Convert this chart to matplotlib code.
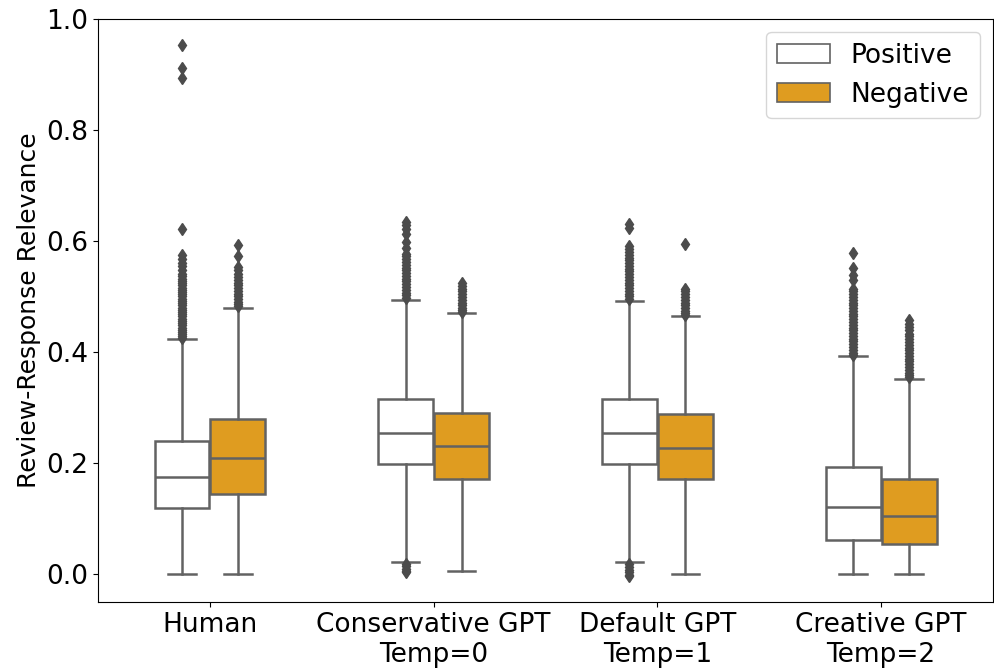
import numpy as np
import matplotlib.pyplot as plt

# категории и ряды
groups = ["Human", "Conservative GPT\nTemp=0", "Default GPT\nTemp=1", "Creative GPT\nTemp=2"]
hues = ["Positive", "Negative"]

# статистика ящиков: [Human, Conservative, Default, Creative]
pos_whislo = [0.0, 0.022, 0.022, 0.0]
pos_q1 = [0.119, 0.198, 0.199, 0.062]
pos_med = [0.175, 0.255, 0.255, 0.121]
pos_q3 = [0.240, 0.315, 0.315, 0.193]
pos_whishi = [0.423, 0.494, 0.491, 0.392]

neg_whislo = [0.0, 0.006, 0.0, 0.0]
neg_q1 = [0.144, 0.172, 0.171, 0.055]
neg_med = [0.209, 0.231, 0.228, 0.105]
neg_q3 = [0.279, 0.291, 0.288, 0.171]
neg_whishi = [0.480, 0.470, 0.465, 0.352]

# выбросы (на глаз)
pos_fliers = [
    [0.953, 0.911, 0.893, 0.621, 0.575, 0.568, 0.561, 0.554, 0.547, 0.541, 0.536,
     0.532, 0.528, 0.524, 0.520, 0.516, 0.512, 0.508, 0.504, 0.500, 0.496, 0.492,
     0.488, 0.484, 0.480, 0.476, 0.472, 0.468, 0.464, 0.460, 0.456, 0.452, 0.448,
     0.444, 0.440, 0.436, 0.432, 0.428, 0.425],
    [0.634, 0.628, 0.622, 0.612, 0.598, 0.587, 0.577, 0.572, 0.567, 0.562, 0.557,
     0.552, 0.547, 0.542, 0.537, 0.532, 0.527, 0.522, 0.517, 0.512, 0.507, 0.502,
     0.498, 0.018, 0.014, 0.010, 0.006, 0.003],
    [0.631, 0.623, 0.590, 0.585, 0.580, 0.575, 0.570, 0.565, 0.560, 0.555, 0.550,
     0.545, 0.540, 0.535, 0.530, 0.525, 0.520, 0.515, 0.510, 0.505, 0.500, 0.496,
     0.018, 0.013, 0.008, 0.003, -0.001, -0.004],
    [0.578, 0.551, 0.539, 0.530, 0.514, 0.509, 0.504, 0.499, 0.494, 0.489, 0.484,
     0.479, 0.474, 0.469, 0.464, 0.459, 0.454, 0.449, 0.444, 0.439, 0.434, 0.429,
     0.424, 0.419, 0.414, 0.409, 0.404, 0.399, 0.395],
]
neg_fliers = [
    [0.592, 0.572, 0.553, 0.547, 0.541, 0.535, 0.530, 0.525, 0.520, 0.515, 0.510,
     0.505, 0.500, 0.495, 0.490, 0.486, 0.483],
    [0.524, 0.519, 0.514, 0.509, 0.504, 0.499, 0.494, 0.489, 0.484, 0.479, 0.475,
     0.472],
    [0.595, 0.514, 0.509, 0.504, 0.499, 0.494, 0.489, 0.484, 0.479, 0.474, 0.470,
     0.467],
    [0.457, 0.451, 0.445, 0.439, 0.433, 0.428, 0.423, 0.418, 0.413, 0.408, 0.403,
     0.398, 0.393, 0.388, 0.383, 0.378, 0.373, 0.368, 0.363, 0.359, 0.355],
]

orange = "#df9c20"
gray = "#4c4c4c"
linegray = "#626262"


def make_stats(lo, q1, med, q3, hi, fl):
    res = []
    for i in range(len(lo)):
        res.append({"whislo": lo[i], "q1": q1[i], "med": med[i], "q3": q3[i],
                    "whishi": hi[i], "fliers": fl[i]})
    return res


fig = plt.figure(figsize=(9.95, 6.71), dpi=100)
ax = fig.add_axes([0.0985, 0.103, 0.8995, 0.869])

x = np.arange(len(groups))
lp = dict(color=linegray, linewidth=1.8)
fp = dict(marker="d", markerfacecolor=gray, markeredgecolor=gray, markersize=6, linestyle="none")

for stats, pos, col in [(make_stats(pos_whislo, pos_q1, pos_med, pos_q3, pos_whishi, pos_fliers), x - 0.125, "white"),
                        (make_stats(neg_whislo, neg_q1, neg_med, neg_q3, neg_whishi, neg_fliers), x + 0.125, orange)]:
    ax.bxp(stats, positions=pos, widths=0.245, patch_artist=True,
           boxprops=dict(facecolor=col, edgecolor=linegray, linewidth=1.8),
           medianprops=lp, whiskerprops=lp, capprops=lp, flierprops=fp)

ax.set_xlim(-0.5, 3.5)
ax.set_ylim(-0.05, 1.0)
ax.set_xticks(x)
ax.set_xticklabels(groups)
ax.set_yticks([0.0, 0.2, 0.4, 0.6, 0.8, 1.0])
ax.tick_params(labelsize=19)
ax.set_ylabel("Review-Response Relevance", fontsize=18)

h1 = plt.Rectangle((0, 0), 1, 1, facecolor="white", edgecolor=linegray, linewidth=1.2)
h2 = plt.Rectangle((0, 0), 1, 1, facecolor=orange, edgecolor=linegray, linewidth=1.2)
ax.legend([h1, h2], hues, loc="upper right", fontsize=19)

plt.savefig("out.png", dpi=100)
